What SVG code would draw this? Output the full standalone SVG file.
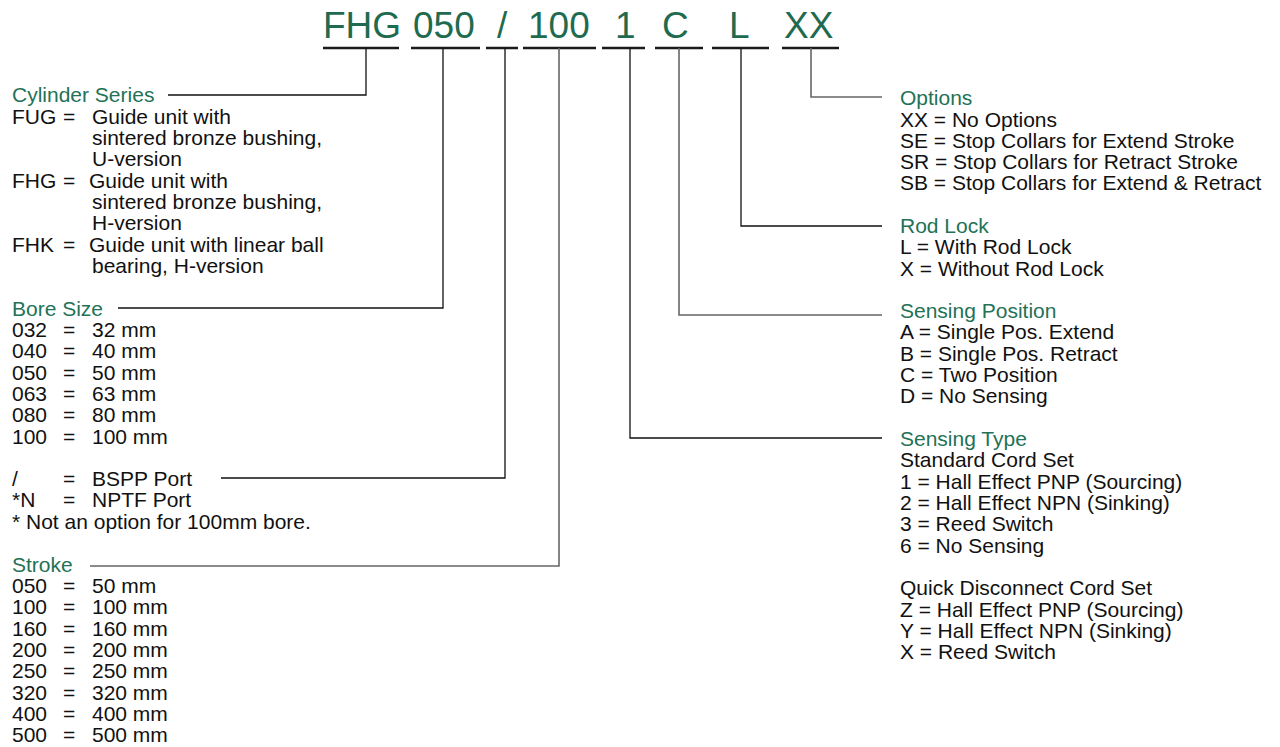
<svg xmlns="http://www.w3.org/2000/svg" width="1280" height="747" viewBox="0 0 1280 747">
<style>
text{font-family:"Liberation Sans",Arial,Helvetica,sans-serif;font-size:21px;fill:#111}
.h{fill:#237256}
.code{font-size:37px;fill:#1f6b4f}
.ul{stroke:#1a1a1a;stroke-width:2.6;fill:none}
.c{stroke:#111;stroke-width:1.3;fill:none}
.g{stroke:#666;stroke-width:1.6;fill:none}
</style>
<rect width="1280" height="747" fill="#ffffff"/>

<g id="code">
<text class="code" x="323" y="38">FHG</text>
<text class="code" x="413" y="38">050</text>
<text class="code" x="497" y="38">/</text>
<text class="code" x="528" y="38">100</text>
<text class="code" x="615" y="38">1</text>
<text class="code" x="662" y="38">C</text>
<text class="code" x="729" y="38">L</text>
<text class="code" x="784" y="38">XX</text>
<path class="ul" d="M323 48H399M411 48H480M486 48H518M523 48H596M602 48H645M655 48H703M712 48H769M782 48H839"/>
</g>

<g id="connectors">
<polyline class="c" points="366,48 366,95 168,95"/>
<polyline class="c" points="443,48 443,308 118,308"/>
<polyline class="c" points="505,48 505,478 221,478"/>
<polyline class="g" points="559,48 559,566 90,566"/>
<polyline class="c" points="630,48 630,438 882,438"/>
<polyline class="g" points="679,48 679,315 882,315"/>
<polyline class="c" points="741,48 741,226 882,226"/>
<polyline class="g" points="811,48 811,97 882,97"/>
</g>

<g id="cylinder-series">
<text class="h" x="12" y="102">Cylinder Series</text>
<text x="12" y="123.5">FUG</text><text x="63" y="123.5">=</text><text x="92" y="123.5">Guide unit with</text>
<text x="92" y="145">sintered bronze bushing,</text>
<text x="92" y="166">U-version</text>
<text x="12" y="187.5">FHG</text><text x="63" y="187.5">=</text><text x="89" y="187.5">Guide unit with</text>
<text x="92" y="209">sintered bronze bushing,</text>
<text x="92" y="230">H-version</text>
<text x="12" y="251.5">FHK</text><text x="63" y="251.5">=</text><text x="89" y="251.5">Guide unit with linear ball</text>
<text x="92" y="273">bearing, H-version</text>
</g>

<g id="bore-size">
<text class="h" x="12" y="316">Bore Size</text>
<text x="12" y="337">032</text><text x="63" y="337">=</text><text x="92" y="337">32 mm</text>
<text x="12" y="358.3">040</text><text x="63" y="358.3">=</text><text x="92" y="358.3">40 mm</text>
<text x="12" y="379.6">050</text><text x="63" y="379.6">=</text><text x="92" y="379.6">50 mm</text>
<text x="12" y="401">063</text><text x="63" y="401">=</text><text x="92" y="401">63 mm</text>
<text x="12" y="422.3">080</text><text x="63" y="422.3">=</text><text x="92" y="422.3">80 mm</text>
<text x="12" y="443.6">100</text><text x="63" y="443.6">=</text><text x="92" y="443.6">100 mm</text>
</g>

<g id="port">
<text x="12" y="486">/</text><text x="63" y="486">=</text><text x="92" y="486">BSPP Port</text>
<text x="12" y="507.3">*N</text><text x="63" y="507.3">=</text><text x="92" y="507.3">NPTF Port</text>
<text x="12" y="528.6">* Not an option for 100mm bore.</text>
</g>

<g id="stroke">
<text class="h" x="12" y="572">Stroke</text>
<text x="12" y="593">050</text><text x="63" y="593">=</text><text x="92" y="593">50 mm</text>
<text x="12" y="614.3">100</text><text x="63" y="614.3">=</text><text x="92" y="614.3">100 mm</text>
<text x="12" y="635.6">160</text><text x="63" y="635.6">=</text><text x="92" y="635.6">160 mm</text>
<text x="12" y="657">200</text><text x="63" y="657">=</text><text x="92" y="657">200 mm</text>
<text x="12" y="678.3">250</text><text x="63" y="678.3">=</text><text x="92" y="678.3">250 mm</text>
<text x="12" y="699.6">320</text><text x="63" y="699.6">=</text><text x="92" y="699.6">320 mm</text>
<text x="12" y="721">400</text><text x="63" y="721">=</text><text x="92" y="721">400 mm</text>
<text x="12" y="742.3">500</text><text x="63" y="742.3">=</text><text x="92" y="742.3">500 mm</text>
</g>

<g id="options">
<text class="h" x="900" y="105">Options</text>
<text x="900" y="126.5">XX = No Options</text>
<text x="900" y="147.8">SE = Stop Collars for Extend Stroke</text>
<text x="900" y="169.1">SR = Stop Collars for Retract Stroke</text>
<text x="900" y="190.4">SB = Stop Collars for Extend &amp; Retract</text>
</g>

<g id="rod-lock">
<text class="h" x="900" y="233">Rod Lock</text>
<text x="900" y="254.3">L = With Rod Lock</text>
<text x="900" y="275.6">X = Without Rod Lock</text>
</g>

<g id="sensing-position">
<text class="h" x="900" y="318">Sensing Position</text>
<text x="900" y="339.3">A = Single Pos. Extend</text>
<text x="900" y="360.6">B = Single Pos. Retract</text>
<text x="900" y="382">C = Two Position</text>
<text x="900" y="403.3">D = No Sensing</text>
</g>

<g id="sensing-type">
<text class="h" x="900" y="446">Sensing Type</text>
<text x="900" y="467.3">Standard Cord Set</text>
<text x="900" y="488.6">1 = Hall Effect PNP (Sourcing)</text>
<text x="900" y="510">2 = Hall Effect NPN (Sinking)</text>
<text x="900" y="531.3">3 = Reed Switch</text>
<text x="900" y="552.6">6 = No Sensing</text>
<text x="900" y="595.2">Quick Disconnect Cord Set</text>
<text x="900" y="616.5">Z = Hall Effect PNP (Sourcing)</text>
<text x="900" y="637.8">Y = Hall Effect NPN (Sinking)</text>
<text x="900" y="659.1">X = Reed Switch</text>
</g>
</svg>
